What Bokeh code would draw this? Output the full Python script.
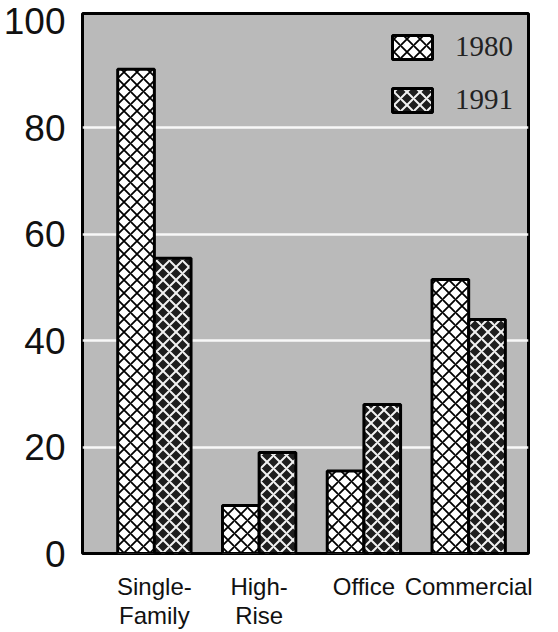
from bokeh.plotting import figure
from bokeh.models import ColumnDataSource, Range1d, FixedTicker, Legend, LegendItem
from bokeh.transform import dodge
from bokeh.embed import file_html
from bokeh.resources import INLINE

categories = ["Single-Family", "High-Rise", "Office", "Commercial"]
tick_labels = ["Single-\nFamily", "High-\nRise", "Office", "Commercial"]
values_1980 = [91, 9, 15.5, 51.5]
values_1991 = [55.5, 19, 28, 44]
y_ticks = [0, 20, 40, 60, 80, 100]

xpos = list(range(1, len(categories) + 1))
source = ColumnDataSource(data=dict(x=xpos, cat=categories, v1980=values_1980, v1991=values_1991))

p = figure(width=558, height=632, output_backend="svg", toolbar_location=None,
           x_range=Range1d(0.314, 4.571), y_range=Range1d(0, 101.5),
           min_border_left=81, min_border_right=30, min_border_top=13, min_border_bottom=77)

p.background_fill_color = "#bababa"
p.border_fill_color = "white"
p.outline_line_color = "black"
p.outline_line_width = 3

r1 = p.vbar(x=dodge("x", -0.175, range=p.x_range), top="v1980", width=0.35, source=source,
            fill_color="white", line_color="black", line_width=3,
            hatch_pattern="x", hatch_color="black", hatch_scale=13, hatch_weight=1.8)
r2 = p.vbar(x=dodge("x", 0.175, range=p.x_range), top="v1991", width=0.35, source=source,
            fill_color="#1e1e1e", line_color="black", line_width=3,
            hatch_pattern="x", hatch_color="#f2f2f2", hatch_scale=13, hatch_weight=2)

legend = Legend(items=[LegendItem(label="1980", renderers=[r1]),
                       LegendItem(label="1991", renderers=[r2])],
                location=(305, 437), padding=0, margin=0, spacing=20,
                glyph_width=50, glyph_height=30, label_standoff=18, label_height=30,
                label_text_font="Liberation Serif", label_text_font_size="29px",
                label_text_color="#222222", label_text_baseline="middle",
                background_fill_alpha=0, border_line_alpha=0)
p.add_layout(legend)

p.xgrid.visible = False
p.ygrid.ticker = FixedTicker(ticks=y_ticks[1:-1])
p.ygrid.grid_line_color = "white"
p.ygrid.grid_line_width = 2.5
p.ygrid.grid_line_alpha = 0.9

p.yaxis.ticker = FixedTicker(ticks=y_ticks)
p.yaxis.axis_line_color = None
p.yaxis.major_tick_line_color = None
p.yaxis.minor_tick_line_color = None
p.yaxis.major_label_text_font = "Liberation Sans"
p.yaxis.major_label_text_font_size = "37px"
p.yaxis.major_label_text_color = "#111111"
p.yaxis.major_label_standoff = 11

p.xaxis.ticker = FixedTicker(ticks=xpos)
p.xaxis.major_label_overrides = {x: lab for x, lab in zip(xpos, tick_labels)}
p.xaxis.axis_line_color = None
p.xaxis.major_tick_line_color = None
p.xaxis.minor_tick_line_color = None
p.xaxis.major_label_text_font = "Liberation Sans"
p.xaxis.major_label_text_font_size = "24px"
p.xaxis.major_label_text_line_height = 1.1
p.xaxis.major_label_text_color = "#111111"
p.xaxis.major_label_standoff = 13

open("out.html", "w").write(file_html(p, INLINE))
